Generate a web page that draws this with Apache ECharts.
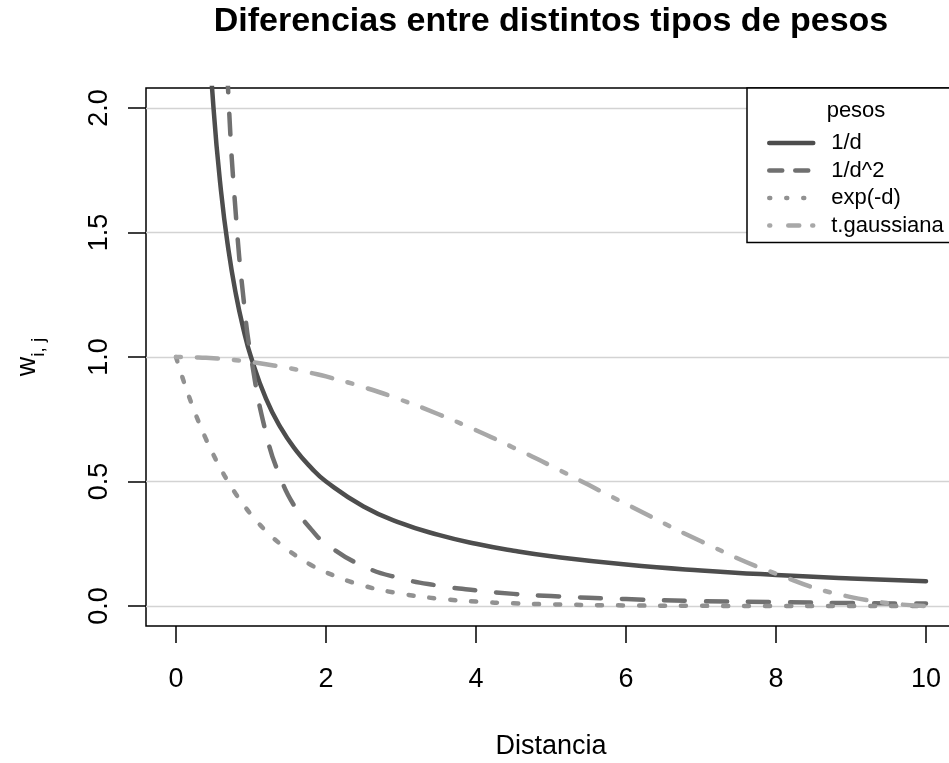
<!DOCTYPE html>
<html>
<head>
<meta charset="utf-8">
<title>Diferencias entre distintos tipos de pesos</title>
<script src="https://cdn.jsdelivr.net/npm/echarts@6.0.0/dist/echarts.min.js"></script>
<style>
	html, body { margin: 0; padding: 0; background: #fff; }
	#main { width: 949px; height: 763px; }
</style>
</head>
<body>
<div id="main"></div>
<script>
	// distancias (eje x) y pesos
	var distancias = [0, 0.1, 0.2, 0.3, 0.4, 0.5, 0.6, 0.7, 0.8, 0.9, 1.0, 1.2, 1.4, 1.6, 1.8, 2.0,
		2.5, 3, 3.5, 4, 4.5, 5, 6, 7, 8, 9, 10];

	var pesoInv = [null, null, null, 3.333, 2.5, 2.0, 1.667, 1.429, 1.25, 1.111, 1.0, 0.833, 0.714, 0.625, 0.556, 0.5,
		0.4, 0.333, 0.286, 0.25, 0.222, 0.2, 0.167, 0.143, 0.125, 0.111, 0.1];

	var pesoInv2 = [null, null, null, null, null, 4.0, 2.778, 2.041, 1.563, 1.235, 1.0, 0.694, 0.510, 0.391, 0.309, 0.25,
		0.16, 0.111, 0.082, 0.063, 0.049, 0.04, 0.028, 0.020, 0.016, 0.012, 0.01];

	var pesoExp = [1.0, 0.905, 0.819, 0.741, 0.670, 0.607, 0.549, 0.497, 0.449, 0.407, 0.368, 0.301, 0.247, 0.202, 0.165, 0.135,
		0.082, 0.050, 0.030, 0.018, 0.011, 0.007, 0.0025, 0.0009, 0.0003, 0.0001, 0.0];

	var pesoGauss = [1.0, 0.9998, 0.9992, 0.9982, 0.9968, 0.995, 0.9928, 0.9902, 0.9872, 0.9838, 0.980, 0.971, 0.961, 0.950, 0.936, 0.922,
		0.879, 0.828, 0.770, 0.706, 0.636, 0.563, 0.410, 0.260, 0.130, 0.036, 0.0];

	var nombres = ['1/d', '1/d^2', 'exp(-d)', 't.gaussiana'];
	var xTicks = [0, 2, 4, 6, 8, 10];
	var yTicks = [0, 0.5, 1, 1.5, 2];

	var fuente = 'Liberation Sans, Arial, sans-serif';

	function pares(valores) {
		return distancias.map(function (d, i) {
			return [d, valores[i]];
		});
	}

	function serie(nombre, valores, color, tipo) {
		return {
			name: nombre,
			type: 'line',
			data: pares(valores),
			symbol: 'none',
			smooth: 0.5,
			connectNulls: false,
			clip: true,
			z: 10,
			color: color,
			lineStyle: { color: color, width: 4.5, type: tipo, cap: 'round', join: 'round' }
		};
	}

	var chart = echarts.init(document.getElementById('main'), null, { renderer: 'canvas' });

	chart.setOption({
		animation: false,
		backgroundColor: '#fff',
		textStyle: { fontFamily: fuente, color: '#000' },
		title: [{
			text: 'Diferencias entre distintos tipos de pesos',
			left: 546,
			top: 0,
			textAlign: 'center',
			textStyle: { fontFamily: fuente, fontSize: 34, fontWeight: 'bold', color: '#000' }
		}, {
			text: 'pesos',
			left: 851,
			top: 95,
			textAlign: 'center',
			textStyle: { fontFamily: fuente, fontSize: 22, fontWeight: 'normal', color: '#000' }
		}],
		legend: {
			data: [
				{ name: nombres[0] },
				{ name: nombres[1], lineStyle: { type: [13, 13] } },
				{ name: nombres[2], lineStyle: { type: [1, 16] } },
				{ name: nombres[3], lineStyle: { type: [1, 18, 11, 13, 1, 20] } }
			],
			orient: 'vertical',
			left: 747,
			top: 88,
			padding: [44, 30, 6, 20],
			borderColor: '#000',
			borderWidth: 1.5,
			backgroundColor: '#fff',
			itemWidth: 44,
			itemHeight: 14,
			itemGap: 5.5,
			selectedMode: false,
			itemStyle: { color: 'rgba(0,0,0,0)', borderWidth: 0, opacity: 0 },
			lineStyle: { width: 4.5, cap: 'round' },
			textStyle: { fontFamily: fuente, fontSize: 22, lineHeight: 22, color: '#000', padding: [0, 0, 0, 13] }
		},
		grid: {
			left: 146,
			top: 88,
			width: 810,
			height: 538,
			outerBoundsMode: 'none',
			containLabel: false,
			show: true,
			borderColor: '#000',
			borderWidth: 1.5,
			backgroundColor: 'transparent'
		},
		xAxis: {
			type: 'value',
			min: -0.4,
			max: 10.4,
			name: 'Distancia',
			nameLocation: 'middle',
			nameGap: 107,
			nameTextStyle: { fontFamily: fuente, fontSize: 27, color: '#000' },
			axisLine: { show: false, onZero: false },
			splitLine: { show: false },
			axisTick: {
				show: true,
				inside: false,
				length: 17,
				customValues: xTicks,
				lineStyle: { color: '#000', width: 1.5 }
			},
			axisLabel: {
				customValues: xTicks,
				margin: 40,
				fontSize: 27,
				color: '#000',
				fontFamily: fuente
			}
		},
		yAxis: {
			type: 'value',
			min: -0.08,
			max: 2.08,
			name: '{w|w}{s|i, j}',
			nameLocation: 'middle',
			nameRotate: 90,
			nameGap: 98,
			nameTextStyle: {
				rich: {
					w: { fontFamily: fuente, fontSize: 27, color: '#000', verticalAlign: 'middle', lineHeight: 40 },
					s: { fontFamily: fuente, fontSize: 19, color: '#000', verticalAlign: 'bottom', lineHeight: 40 }
				}
			},
			axisLine: { show: false, onZero: false },
			splitLine: { show: false },
			axisTick: {
				show: true,
				inside: false,
				length: 18,
				customValues: yTicks,
				lineStyle: { color: '#000', width: 1.5 }
			},
			axisLabel: {
				customValues: yTicks,
				rotate: 90,
				margin: 33,
				fontSize: 27,
				color: '#000',
				fontFamily: fuente,
				formatter: function (v) { return v.toFixed(1); }
			}
		},
		series: [
			{
				name: 'rejilla',
				type: 'line',
				data: [],
				z: 1,
				markLine: {
					z: 1,
					silent: true,
					symbol: 'none',
					label: { show: false },
					lineStyle: { color: '#d3d3d3', width: 1.3, type: 'solid' },
					data: yTicks.map(function (v) { return { yAxis: v }; })
				}
			},
			serie(nombres[0], pesoInv, '#4d4d4d', 'solid'),
			serie(nombres[1], pesoInv2, '#707070', [21, 21]),
			serie(nombres[2], pesoExp, '#919191', [5, 16]),
			serie(nombres[3], pesoGauss, '#a8a8a8', [5, 16, 21, 16])
		]
	});
</script>
</body>
</html>
